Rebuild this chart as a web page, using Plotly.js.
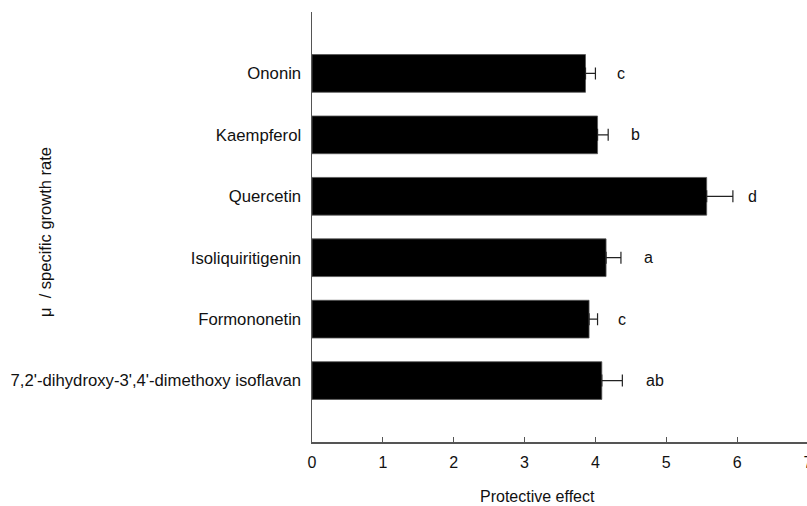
<!DOCTYPE html>
<html>
<head>
<meta charset="utf-8">
<script src="https://cdn.plot.ly/plotly-3.0.1.min.js"></script>
<style>
html,body{margin:0;padding:0;overflow:hidden;background:#fff;}
#chart{width:830px;height:506px;}
</style>
</head>
<body>
<div id="chart"></div>
<script>
// Data (top to bottom in the picture)
var compounds = ["Ononin", "Kaempferol", "Quercetin", "Isoliquiritigenin", "Formononetin", "7,2'-dihydroxy-3',4'-dimethoxy isoflavan"];
var protectiveEffect = [3.86, 4.03, 5.57, 4.15, 3.91, 4.09];
var errorPlus = [0.14, 0.15, 0.37, 0.21, 0.12, 0.29];
var letters = ["c", "b", "d", "a", "c", "ab"];
var letterX = [4.36, 4.57, 6.22, 4.75, 4.38, 4.84];
var xTicks = [0, 1, 2, 3, 4, 5, 6, 7];

// plot bottom-to-top so first item is on top
var cats = compounds.slice().reverse();
var vals = protectiveEffect.slice().reverse();
var errs = errorPlus.slice().reverse();
var lets = letters.slice().reverse();
var lx = letterX.slice().reverse();

var FONT = "Liberation Sans, Arial, sans-serif";

var trace = {
  type: "bar",
  orientation: "h",
  y: cats,
  x: vals,
  marker: {color: "#000000", line: {color: "#555555", width: 0.8}},
  error_x: {type: "data", array: errs, symmetric: false, arrayminus: errs.map(function(){return 0;}), color: "#222222", thickness: 1.2, width: 6},
  hoverinfo: "none"
};

var annotations = cats.map(function(c, i){
  return {x: lx[i], y: c, xref: "x", yref: "y", text: lets[i], showarrow: false,
          xanchor: "center", yanchor: "middle", font: {family: FONT, size: 16, color: "#111"}};
});
annotations.push({x: 0, y: 0.5, xref: "paper", yref: "paper", xshift: -267, yshift: -5,
  text: "μ  / specific growth rate", textangle: -90, showarrow: false,
  xanchor: "center", yanchor: "middle", font: {family: FONT, size: 16.5, color: "#111"}});
annotations.push({x: 0.5, y: 0, xref: "paper", yref: "paper", xshift: -23, yshift: -54,
  text: "Protective effect", showarrow: false,
  xanchor: "center", yanchor: "middle", font: {family: FONT, size: 16, color: "#111"}});

var layout = {
  width: 830, height: 506,
  margin: {l: 312, r: 22, t: 12, b: 64},
  paper_bgcolor: "#ffffff", plot_bgcolor: "#ffffff",
  bargap: 0.386,
  showlegend: false,
  xaxis: {
    range: [0, 7], tickvals: xTicks, ticktext: xTicks.map(String),
    showgrid: false, zeroline: false, showline: true, linecolor: "#555555", linewidth: 1.5,
    ticks: "inside", ticklen: 5, tickcolor: "#555555", tickwidth: 1,
    ticklabelstandoff: 5,
    tickfont: {family: FONT, size: 16, color: "#111"}, fixedrange: true
  },
  yaxis: {
    type: "category", range: [-1, 6],
    showgrid: false, zeroline: false, showline: true, linecolor: "#555555", linewidth: 1.5,
    ticks: "", ticklabelstandoff: 6,
    tickfont: {family: FONT, size: 16.7, color: "#111"}, fixedrange: true
  },
  annotations: annotations
};

Plotly.newPlot("chart", [trace], layout, {displayModeBar: false, staticPlot: true});
</script>
</body>
</html>
